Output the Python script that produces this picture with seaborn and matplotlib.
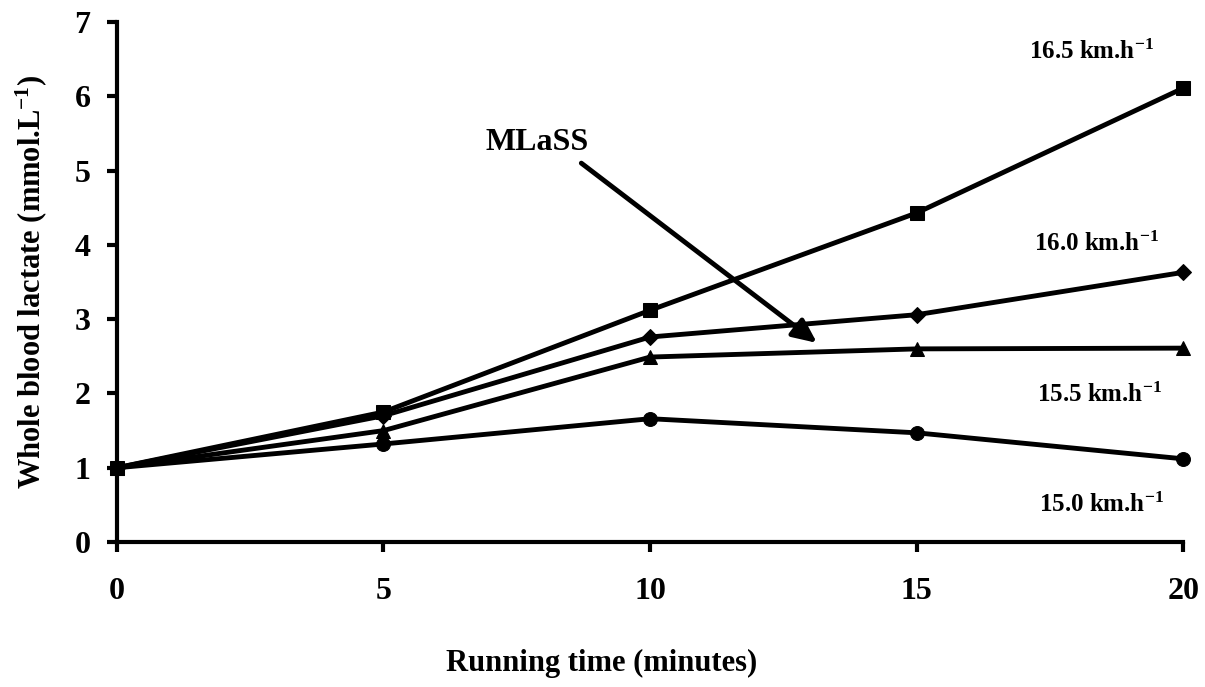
import matplotlib
matplotlib.use("Agg")
import matplotlib.pyplot as plt
import seaborn as sns
import pandas as pd

time_min = [0, 5, 10, 15, 20]
speed_labels = ["16.5 km.h", "16.0 km.h", "15.5 km.h", "15.0 km.h"]
lactate_165 = [1.0, 1.75, 3.12, 4.43, 6.11]
lactate_160 = [1.0, 1.70, 2.76, 3.06, 3.63]
lactate_155 = [1.0, 1.50, 2.49, 2.60, 2.61]
lactate_150 = [1.0, 1.32, 1.66, 1.47, 1.12]
markers = ["s", "D", "^", "o"]
marker_sizes = [10, 8, 10, 10]
x_ticks = [0, 5, 10, 15, 20]
y_ticks = [0, 1, 2, 3, 4, 5, 6, 7]

sns.set_theme(style="ticks")
plt.rcParams["font.family"] = ["Liberation Serif", "DejaVu Serif"]
plt.rcParams["font.weight"] = "bold"
plt.rcParams["text.color"] = "black"
plt.rcParams["axes.labelcolor"] = "black"
plt.rcParams["mathtext.fontset"] = "custom"
plt.rcParams["mathtext.rm"] = "Liberation Serif:bold"
plt.rcParams["mathtext.bf"] = "Liberation Serif:bold"
plt.rcParams["mathtext.it"] = "Liberation Serif:bold"

fig = plt.figure(figsize=(12.05, 6.87), dpi=100)
ax = fig.add_axes([0.097, 0.211, 0.885, 0.757])

series = [lactate_165, lactate_160, lactate_155, lactate_150]
for vals, mk, ms, lab in zip(series, markers, marker_sizes, speed_labels):
    df = pd.DataFrame({"time": time_min, "lactate": vals})
    sns.lineplot(data=df, x="time", y="lactate", ax=ax, color="black",
                 linewidth=3.5, marker=mk, markersize=ms, markeredgecolor="black",
                 clip_on=False, zorder=3, label=lab, legend=False)

ax.set_xlim(0, 20)
ax.set_ylim(0, 7)
ax.set_xticks(x_ticks)
ax.set_yticks(y_ticks)
ax.set_xticklabels([str(v) for v in x_ticks])
ax.set_yticklabels([str(v) for v in y_ticks])
for s in ["top", "right"]:
    ax.spines[s].set_visible(False)
for s in ["left", "bottom"]:
    ax.spines[s].set_linewidth(3)
    ax.spines[s].set_color("black")
ax.tick_params(axis="x", direction="out", length=7, width=3, pad=18, labelsize=23, colors="black")
ax.tick_params(axis="y", direction="out", length=7, width=3, pad=12, labelsize=23, colors="black")
for t in ax.get_xticklabels() + ax.get_yticklabels():
    t.set_fontweight("bold")

ax.set_xlabel("Running time (minutes)", fontsize=22, fontweight="bold")
ax.xaxis.set_label_coords(0.455, -0.205)
ax.set_ylabel(r"Whole blood lactate (mmol.L$^{-1}$)", fontsize=22, fontweight="bold", labelpad=18)

label_pos = [(18.27, 6.6), (18.37, 4.02), (18.42, 1.98), (18.46, 0.5)]
for lab, (tx, ty) in zip(speed_labels, label_pos):
    ax.text(tx, ty, lab + r"$^{-1}$", fontsize=18, fontweight="bold",
            ha="center", va="center", clip_on=False)

ax.annotate("", xy=(13.13, 2.68), xytext=(8.71, 5.10),
            arrowprops=dict(arrowstyle="-|>,head_length=1.2,head_width=0.55",
                            color="black", lw=3.5, shrinkA=0, shrinkB=0))
ax.text(7.89, 5.38, "MLaSS", fontsize=23, fontweight="bold", ha="center", va="center")

fig.savefig("out.png", dpi=100, facecolor="white")
